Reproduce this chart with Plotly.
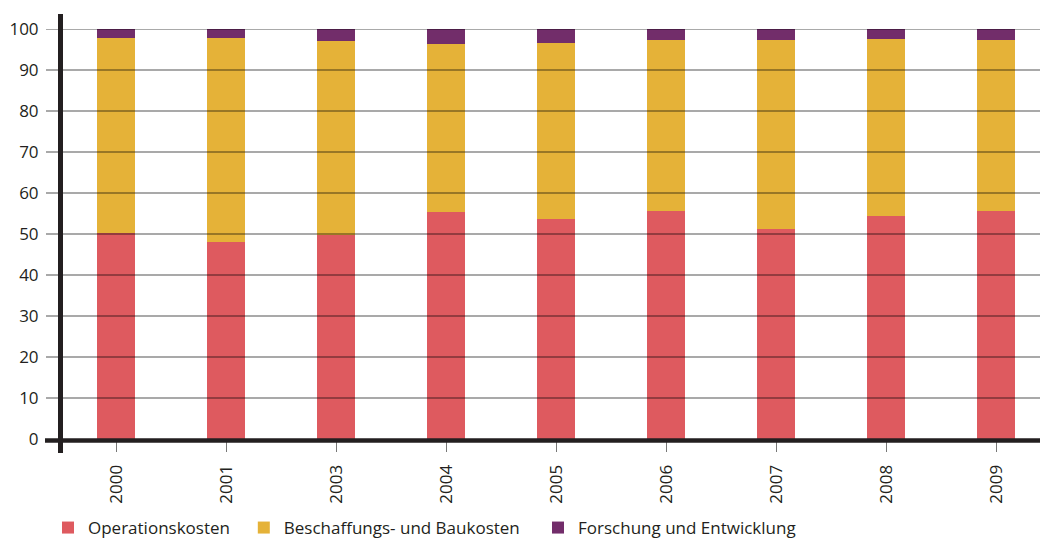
import plotly.graph_objects as go

# Cost shares per year (percent)
years = ["2000", "2001", "2003", "2004", "2005", "2006", "2007", "2008", "2009"]
operationskosten = [50.2, 48.0, 49.8, 55.4, 53.7, 55.6, 51.2, 54.4, 55.5]
beschaffung_bau = [47.7, 49.8, 47.3, 40.9, 42.8, 41.6, 46.0, 43.1, 41.9]
forschung_entw = [2.1, 2.2, 2.9, 3.7, 3.5, 2.8, 2.8, 2.5, 2.6]
y_ticks = [0, 10, 20, 30, 40, 50, 60, 70, 80, 90, 100]

NBSP = "\u00a0"
series = [
    ("Operationskosten" + NBSP * 2, operationskosten, "#DE5A5F"),
    ("Beschaffungs- und Baukosten" + NBSP * 3, beschaffung_bau, "#E5B238"),
    ("Forschung und Entwicklung", forschung_entw, "#722D6A"),
]

W, H = 1040, 538
ML, MR, MT, MB = 61, 0, 29, 99
PW, PH = W - ML - MR, H - MT - MB

fig = go.Figure()
for name, vals, color in series:
    fig.add_trace(go.Bar(
        x=years, y=vals, name=name,
        marker=dict(color=color, line=dict(width=0)),
        width=0.345,
    ))

font_family = "Open Sans, Noto Sans, sans-serif"
ink = "#231f20"

shapes = []
# horizontal grid lines drawn over the bars
for t in y_ticks[1:]:
    shapes.append(dict(
        type="line", xref="paper", yref="y",
        x0=-15 / PW, x1=1, y0=t, y1=t,
        line=dict(color="rgba(0,0,0,0.45)", width=1.4),
        layer="above",
    ))
# heavy axis lines
shapes.append(dict(
    type="line", xref="paper", yref="paper",
    x0=-16 / PW, x1=1, y0=-1.5 / PH, y1=-1.5 / PH,
    line=dict(color=ink, width=4.5), layer="above",
))
shapes.append(dict(
    type="line", xref="paper", yref="paper",
    x0=-0.5 / PW, x1=-0.5 / PW, y0=-14 / PH, y1=(PH + 15) / PH,
    line=dict(color=ink, width=5), layer="above",
))

fig.update_layout(
    width=W, height=H,
    margin=dict(l=ML, r=MR, t=MT, b=MB, pad=0, autoexpand=False),
    barmode="stack",
    paper_bgcolor="white",
    plot_bgcolor="white",
    font=dict(family=font_family, size=17, color=ink),
    shapes=shapes,
    showlegend=True,
    legend=dict(
        orientation="h",
        x=-13 / PW, xanchor="left",
        y=(PH - (528 - MT)) / PH, yanchor="middle",
        font=dict(size=17, color=ink),
        traceorder="normal",
        itemclick=False,
        bgcolor="rgba(0,0,0,0)",
    ),
    xaxis=dict(
        type="category",
        range=[-0.5, 8.4],
        showgrid=False,
        showline=False,
        zeroline=False,
        ticks="outside",
        ticklen=12,
        tickwidth=1,
        tickcolor="#777777",
        tickangle=-90,
        ticklabelstandoff=6,
        tickfont=dict(size=17, color=ink),
    ),
    yaxis=dict(
        range=[0, 100],
        tickvals=y_ticks,
        showgrid=False,
        showline=False,
        zeroline=False,
        ticks="outside",
        ticklen=18,
        tickcolor="rgba(0,0,0,0)",
        tickfont=dict(size=17, color=ink),
    ),
)

fig.write_html("out.html")
